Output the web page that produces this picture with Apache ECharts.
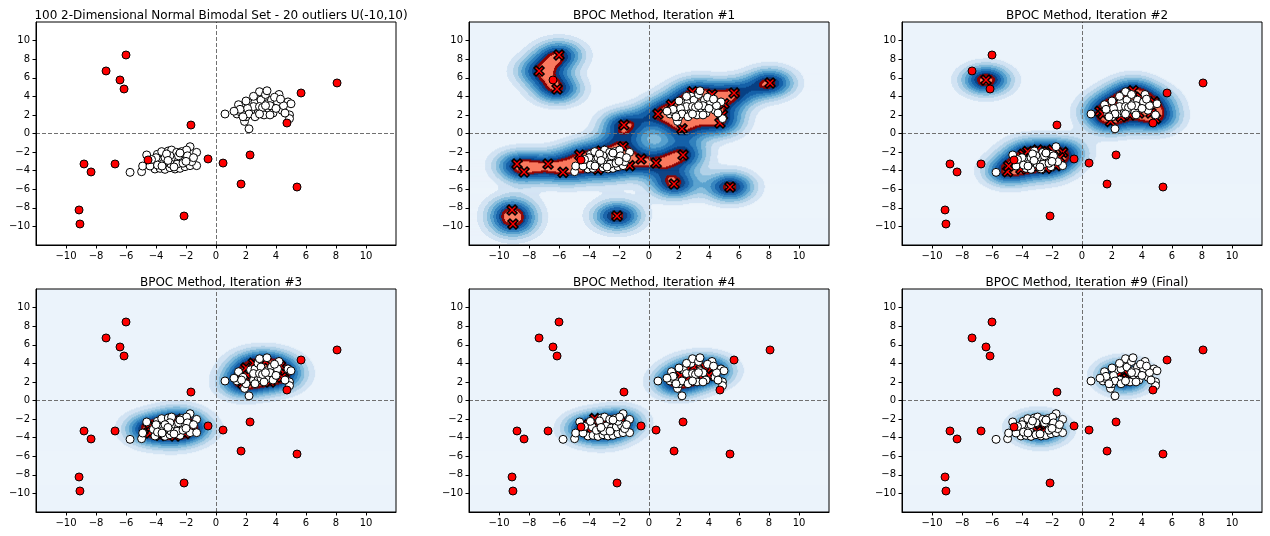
<!DOCTYPE html>
<html>
<head>
<meta charset="utf-8">
<script src="https://cdn.jsdelivr.net/npm/echarts@6/dist/echarts.min.js"></script>
<style>
  html, body { margin: 0; background: #fff; }
  #chart { width: 1270px; height: 536px; }
</style>
</head>
<body>
<div id="chart"></div>
<script>
// tick labels shared by every panel
const ticks = [-10, -8, -6, -4, -2, 0, 2, 4, 6, 8, 10]

// inlier cloud, lower-left mode
const clusterA = [
  [-5.73, -4.18], [-4.96, -4.11], [-4.07, -3.82], [-3.73, -3.75], [-3.40, -3.86], [-3.07, -3.68], [-2.73, -3.82], [-2.40, -3.75], [-2.07, -3.57], [-1.73, -3.46],
  [-1.29, -3.46], [-4.89, -3.50], [-4.18, -3.10], [-3.78, -2.85], [-3.51, -3.21], [-3.18, -3.03], [-2.84, -2.74], [-2.51, -2.96], [-2.18, -2.85], [-1.84, -2.67],
  [-1.62, -3.03], [-4.62, -2.31], [-3.91, -2.24], [-3.62, -1.95], [-3.18, -1.88], [-2.96, -1.78], [-2.62, -2.03], [-2.29, -1.95], [-2.07, -2.24], [-1.73, -1.42],
  [-1.29, -2.03], [-3.07, -2.39], [-1.96, -1.78], [-4.40, -3.50], [-4.00, -2.60], [-3.40, -2.60], [-3.00, -3.30], [-2.60, -3.30], [-2.20, -3.20], [-1.90, -2.40],
  [-2.50, -2.40], [-3.30, -2.20], [-3.90, -3.40], [-2.80, -3.60], [-2.00, -3.00], [-1.50, -2.60], [-3.60, -3.50], [-4.30, -2.80], [-2.40, -2.10], [-3.20, -2.90]
]

// inlier cloud, upper-right mode
const clusterB = [
  [0.6, 2.1], [1.4, 2.1], [1.5, 3.1], [1.8, 2.5], [1.9, 1.3], [2.2, 0.5], [2.0, 1.8], [2.3, 3.3], [1.7, 2.2], [2.5, 2.2],
  [2.6, 3.4], [2.8, 4.0], [2.9, 4.5], [3.0, 3.6], [3.3, 4.2], [3.4, 3.2], [3.5, 2.4], [3.7, 3.6], [4.2, 4.2], [3.8, 2.2],
  [4.4, 2.5], [4.8, 3.4], [5.0, 3.2], [4.9, 2.0], [4.9, 1.6], [2.8, 2.2], [3.0, 2.4], [2.5, 2.9], [2.1, 2.7], [3.6, 3.0],
  [4.1, 3.4], [2.9, 2.9], [3.2, 2.0], [1.6, 2.6], [2.2, 2.1], [3.4, 4.6], [4.5, 3.0], [2.6, 1.8], [3.9, 3.9], [4.6, 2.2],
  [1.8, 1.8], [3.1, 2.8], [2.0, 3.5], [3.6, 2.0], [4.3, 3.7], [2.5, 4.0], [3.3, 3.0], [2.9, 2.1], [1.2, 2.4], [4.0, 2.7]
]

// 20 uniform outliers
const outliers = [
  [-6.00, 8.45], [-7.33, 6.73], [-6.40, 5.76], [-6.13, 4.79], [8.07, 5.44], [5.67, 4.36], [-1.67, 0.91], [4.73, 1.13], [-8.80, -3.28], [-8.33, -4.14],
  [-6.73, -3.28], [-4.53, -2.85], [-0.53, -2.74], [0.47, -3.18], [2.27, -2.31], [1.67, -5.44], [5.40, -5.76], [-2.13, -8.88], [-9.13, -8.23], [-9.07, -9.74]
]

// boundary points (X markers) found at each iteration
const sv1 = [
  [-6.00, 8.45], [-7.33, 6.73], [-6.13, 4.79], [8.07, 5.44], [5.67, 4.36], [-1.67, 0.91], [4.73, 1.13], [-8.80, -3.28], [-8.33, -4.14],
  [-6.73, -3.28], [-0.53, -2.74], [0.47, -3.18], [2.27, -2.31], [1.67, -5.44], [5.40, -5.76], [-2.13, -8.88], [-9.13, -8.23], [-9.07, -9.74],
  [-5.73, -4.18], [-4.62, -2.31], [-3.18, -1.88], [-1.73, -1.42], [-1.29, -3.46], [-3.40, -3.86],
  [0.6, 2.1], [1.5, 3.1], [2.9, 4.5], [4.2, 4.2], [5.0, 3.2], [4.9, 2.0], [2.2, 0.5]
]
const sv2 = [
  [-6.40, 5.76],
  [-4.96, -4.11], [-4.89, -3.50], [-3.91, -2.24], [-3.62, -1.95], [-2.96, -1.78], [-2.29, -1.95], [-1.96, -1.78], [-1.29, -2.03], [-1.50, -2.60],
  [-1.73, -3.46], [-2.40, -3.75], [-3.07, -3.68], [-4.07, -3.82],
  [1.2, 2.4], [1.4, 2.1], [1.9, 1.3], [2.3, 3.3], [2.8, 4.0], [3.4, 4.6], [3.9, 3.9], [4.8, 3.4], [4.9, 1.6], [4.6, 2.2], [3.8, 2.2], [3.2, 2.0], [2.6, 1.8]
]
const sv3 = [
  [-4.53, -2.85], [-4.40, -3.50], [-4.30, -2.80], [-3.30, -2.20], [-2.62, -2.03], [-2.07, -2.24], [-1.84, -2.67], [-1.62, -3.03],
  [-2.07, -3.57], [-2.73, -3.82], [-3.73, -3.75],
  [1.6, 2.6], [2.1, 2.7], [2.0, 3.5], [2.5, 4.0], [3.3, 4.2], [4.3, 3.7], [4.5, 3.0], [4.4, 2.5], [3.6, 2.0], [2.9, 2.1], [2.2, 2.1], [1.8, 1.8]
]
const sv4 = [
  [-4.18, -3.10], [-4.00, -2.60], [-3.62, -1.95], [-3.40, -2.60], [-3.07, -2.39], [-2.50, -2.40], [-1.90, -2.40], [-2.00, -3.00], [-2.20, -3.20],
  [-2.80, -3.60], [-3.60, -3.50], [-3.90, -3.40],
  [1.8, 2.5], [2.6, 3.4], [3.0, 3.6], [3.7, 3.6], [4.1, 3.4], [4.0, 2.7], [3.5, 2.4], [2.8, 2.2], [2.5, 2.2], [2.1, 2.7]
]
const sv9 = [
  [-3.18, -3.03], [-3.20, -2.90], [-2.84, -2.74], [-2.51, -2.96], [-2.60, -3.30], [-3.00, -3.30],
  [2.5, 2.9], [2.9, 2.9], [3.1, 2.8], [3.0, 2.4], [2.8, 2.2]
]

const titles = [
  '100 2-Dimensional Normal Bimodal Set - 20 outliers U(-10,10)',
  'BPOC Method, Iteration #1',
  'BPOC Method, Iteration #2',
  'BPOC Method, Iteration #3',
  'BPOC Method, Iteration #4',
  'BPOC Method, Iteration #9 (Final)'
]
const panelSV = [null, sv1, sv2, sv3, sv4, sv9]
// decision level of the red region per panel
const panelLevel = [null, 0.95, 0.9, 0.85, 0.85, 0.85]

const blues = ['#ebf3fb', '#d2e3f3', '#b2d2e8', '#85bcdc', '#56a0ce', '#3181bd', '#1561a9', '#084084']
const cellColors = blues.concat(['#fa7a5f', '#8b0000'])
const GAMMA = 0.4
const NX = 360
const NY = 224
const DX = 24 / NX
const DY = 24 / NY

const key = p => p[0] + ',' + p[1]
function without (points, removed) {
  const s = new Set(removed.map(key))
  return points.filter(p => !s.has(key(p)))
}

// kernel weights so that every active point reaches the decision level
function solveWeights (pts) {
  const n = pts.length
  const K = pts.map(p => pts.map(q => Math.exp(-GAMMA * ((p[0] - q[0]) ** 2 + (p[1] - q[1]) ** 2))))
  const a = new Array(n).fill(0)
  for (let it = 0; it < 300; it++) {
    for (let i = 0; i < n; i++) {
      let s = 0
      for (let j = 0; j < n; j++) if (j !== i) s += K[i][j] * a[j]
      a[i] = Math.max(0, 1 - s)
    }
  }
  return a
}

function densityCells (pts, level) {
  const a = solveWeights(pts)
  const used = pts.filter((p, k) => a[k] > 0)
  const w = a.filter(v => v > 0)
  const vals = new Float64Array(NX * NY)
  let vmin = Infinity
  for (let j = 0; j < NY; j++) {
    const y = 12 - (j + 0.5) * DY
    for (let i = 0; i < NX; i++) {
      const x = -12 + (i + 0.5) * DX
      let s = 0
      for (let k = 0; k < used.length; k++) {
        const dx = x - used[k][0], dy = y - used[k][1]
        s += w[k] * Math.exp(-GAMMA * (dx * dx + dy * dy))
      }
      vals[j * NX + i] = s
      if (s < vmin) vmin = s
    }
  }
  const cls = new Uint8Array(NX * NY)
  for (let n = 0; n < NX * NY; n++) {
    const s = vals[n]
    cls[n] = s >= level ? 8 : Math.min(7, Math.floor(8 * (s - vmin) / (level - vmin)))
  }
  // dark red contour line along the decision level
  const out = Uint8Array.from(cls)
  for (let j = 0; j < NY; j++) {
    for (let i = 0; i < NX; i++) {
      const inside = cls[j * NX + i] === 8
      let edge = false
      for (let dj = -1; dj <= 1 && !edge; dj++) {
        for (let di = -1; di <= 1; di++) {
          const jj = j + dj, ii = i + di
          if (jj < 0 || jj >= NY || ii < 0 || ii >= NX) continue
          if ((cls[jj * NX + ii] === 8) !== inside) { edge = true; break }
        }
      }
      if (edge) out[j * NX + i] = 9
    }
  }
  const runs = []
  for (let j = 0; j < NY; j++) {
    const y = 12 - (j + 0.5) * DY
    let i0 = 0
    for (let i = 1; i <= NX; i++) {
      if (i === NX || out[j * NX + i] !== out[j * NX + i0]) {
        runs.push([-12 + i0 * DX, -12 + i * DX, y, out[j * NX + i0]])
        i0 = i
      }
    }
  }
  return runs
}

const allPoints = clusterA.concat(clusterB, outliers)
// points still in play at each iteration: everything not yet peeled off
const activeSets = [
  null,
  allPoints,
  without(allPoints, sv1),
  without(allPoints, sv1.concat(sv2)),
  without(allPoints, sv1.concat(sv2, sv3)),
  sv9
]

const lefts = [36, 469, 902]
const tops = [22, 289]
const font = 'DejaVu Sans'
const xPath = 'path://M-10,-6L-6,-10L0,-4L6,-10L10,-6L4,0L10,6L6,10L0,4L-6,10L-10,6L-4,0Z'

const grid = [], xAxis = [], yAxis = [], title = [], series = []
const inliers = clusterA.concat(clusterB)

for (let p = 0; p < 6; p++) {
  const left = lefts[p % 3], top = tops[Math.floor(p / 3)]
  grid.push({ left: left, top: top, width: 360, height: 223, show: true, borderColor: '#000', borderWidth: 1, backgroundColor: 'transparent', z: 10 })
  title.push({
    text: titles[p], left: left + 180, top: top - 17, textAlign: 'center',
    textStyle: { fontFamily: font, fontSize: 12, fontWeight: 'normal', color: '#000' }
  })
  const axisCommon = {
    gridIndex: p, type: 'value', min: -12, max: 12, z: 10,
    splitLine: { show: false },
    axisLine: { show: true, onZero: false, lineStyle: { color: '#000', width: 1 } },
    axisTick: { show: true, length: 3.5, customValues: ticks, lineStyle: { color: '#000' } },
    axisLabel: {
      customValues: ticks, margin: 6, color: '#000', fontFamily: font, fontSize: 10,
      formatter: v => String(v).replace('-', '\u2212')
    }
  }
  xAxis.push(Object.assign({}, axisCommon))
  yAxis.push(Object.assign({}, axisCommon))

  const sv = panelSV[p]
  if (sv) {
    series.push({
      type: 'custom', xAxisIndex: p, yAxisIndex: p, z: 1, silent: true, clip: true,
      progressive: 0, animation: false,
      encode: { x: [0, 1], y: 2 },
      data: densityCells(activeSets[p], panelLevel[p]),
      renderItem: (params, api) => {
        const p0 = api.coord([api.value(0), api.value(2) + DY / 2])
        const p1 = api.coord([api.value(1), api.value(2) - DY / 2])
        return {
          type: 'rect',
          shape: { x: p0[0], y: p0[1], width: p1[0] - p0[0] + 0.6, height: p1[1] - p0[1] + 0.6 },
          style: { fill: cellColors[api.value(3)] }
        }
      }
    })
  }
  // dashed zero lines
  series.push({
    type: 'scatter', xAxisIndex: p, yAxisIndex: p, z: 2, data: [], silent: true,
    markLine: {
      silent: true, symbol: 'none', animation: false, label: { show: false },
      lineStyle: { color: '#707070', width: 1, type: [4, 2] },
      data: [{ xAxis: 0 }, { yAxis: 0 }]
    }
  })
  if (sv) {
    series.push({
      type: 'scatter', xAxisIndex: p, yAxisIndex: p, z: 3, silent: true, animation: false,
      symbol: xPath, symbolSize: 10,
      itemStyle: { color: '#ff0000', borderColor: '#000', borderWidth: 1.5, opacity: 1 },
      data: sv
    })
  }
  series.push({
    type: 'scatter', xAxisIndex: p, yAxisIndex: p, z: 4, silent: true, animation: false,
    symbol: 'circle', symbolSize: 8,
    itemStyle: { color: '#fff', borderColor: '#000', borderWidth: 1, opacity: 1 },
    data: sv ? without(inliers, sv) : inliers
  })
  series.push({
    type: 'scatter', xAxisIndex: p, yAxisIndex: p, z: 5, silent: true, animation: false,
    symbol: 'circle', symbolSize: 8,
    itemStyle: { color: '#ff0000', borderColor: '#000', borderWidth: 1, opacity: 1 },
    data: sv ? without(outliers, sv) : outliers
  })
}

const chart = echarts.init(document.getElementById('chart'), null, { renderer: 'canvas' })
chart.setOption({ animation: false, title: title, grid: grid, xAxis: xAxis, yAxis: yAxis, series: series })
window.addEventListener('resize', () => chart.resize())
</script>
</body>
</html>
